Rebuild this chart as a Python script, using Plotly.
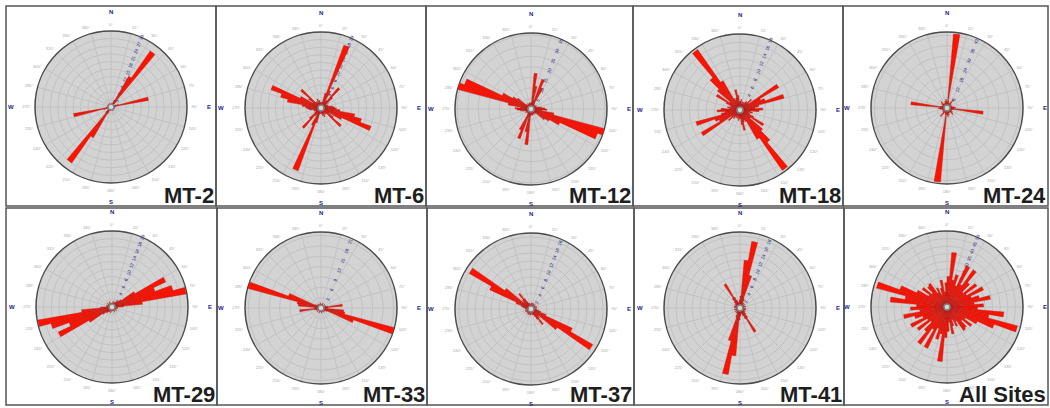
import plotly.graph_objects as go

# ---------------------------------------------------------------- data
# Axial orientation data: 5-degree bins over 0-180 deg, mirrored to 180-360.
BIN_CENTERS = [2.5, 7.5, 12.5, 17.5, 22.5, 27.5, 32.5, 37.5, 42.5, 47.5,
               52.5, 57.5, 62.5, 67.5, 72.5, 77.5, 82.5, 87.5, 92.5, 97.5,
               102.5, 107.5, 112.5, 117.5, 122.5, 127.5, 132.5, 137.5, 142.5, 147.5,
               152.5, 157.5, 162.5, 167.5, 172.5, 177.5]

SITES = ["MT-2", "MT-6", "MT-12", "MT-18", "MT-24",
         "MT-29", "MT-33", "MT-37", "MT-41", "All Sites"]

MT_2 = [1, 1, 1.5, 1, 1.5, 3, 14, 27, 3, 1, 1, 1.5, 1, 1, 3, 15, 2, 1,
        1.5, 1, 1, 1, 1.5, 1, 1, 1, 1, 1, 1.5, 1, 1, 1.5, 1, 1, 1, 1]
MT_6 = [1.5, 1, 1.5, 4, 17.6, 5, 2, 2.5, 7, 4, 2, 1.5, 1.5, 2, 1.5, 2, 3, 3.5,
        4, 5, 9, 11, 14, 6, 2.5, 4, 7, 2, 1.5, 2, 1.5, 2.5, 1.5, 2, 1.5, 1]
MT_12 = [3, 17, 11, 4, 15, 11, 3, 2, 2.5, 2, 2, 3, 2, 2.5, 3, 4, 5, 6.5,
         7.5, 5, 11, 36, 33.5, 15, 10, 8, 3, 2.5, 2, 3, 2, 2.5, 3, 2, 3, 2.5]
MT_18 = [2, 2.5, 1.5, 2, 1.5, 2, 1.5, 2.5, 2, 3.6, 2.5, 10.6, 5.4, 6.3, 10.8, 4.5, 3.6, 5.4,
         4.5, 2.5, 3, 2, 2.5, 3.6, 6.5, 3, 7, 10, 17.5, 8, 3, 2.5, 3, 4.9, 3.5, 2]
MT_24 = [3, 43, 4, 2, 3, 2, 4, 6, 3, 2, 3, 2, 2, 3, 2, 3, 4, 5,
         4, 21, 4, 3, 2, 3, 2, 4, 3, 5, 3, 2, 3, 2, 4, 3, 5, 4]
MT_29 = [1, 1, 1.5, 1, 1, 1.5, 1, 1.5, 2, 2, 3, 7, 15.6, 12, 16.6, 19.8, 8, 3,
         1.5, 1, 1, 1.5, 1, 1, 1, 1.5, 1, 1, 1, 1, 1.5, 1, 1, 1, 1, 1]
MT_33 = [1, 1, 1, 1, 1.5, 1, 1, 1, 1, 1.5, 1, 1, 1, 1.5, 1, 2, 6.2, 2,
         1.5, 6.6, 7, 22, 10, 2, 1.5, 1, 1, 1, 1.5, 1, 1, 1, 1, 1, 1.5, 1]
MT_37 = [1.5, 1, 1.5, 1, 1, 1.5, 1, 1, 1.5, 1, 1, 1, 1.5, 1, 1, 1.5, 1, 1,
         1.5, 1, 2, 2.5, 4, 11.4, 17.8, 8, 2.5, 3, 4.8, 3, 2, 1.5, 1, 1.5, 1, 1]
MT_41 = [3, 12, 16.9, 8.5, 2.5, 1.5, 1, 1.5, 1, 1, 1.5, 1, 1, 1, 1.5, 1, 1, 1,
         1.5, 1, 1, 1.5, 1, 1, 1.5, 1, 1.5, 2, 3, 7, 3, 2, 1.5, 1, 1.5, 2]
ALL_SITES = [20, 36, 18, 22, 15, 30, 17, 30, 21, 14, 24, 15, 26.5, 17, 22, 29, 18, 24,
             20, 37.5, 28, 48, 33, 22, 14, 20, 13, 18, 19, 11, 14, 9, 13, 18, 10, 16]

COUNTS = [MT_2, MT_6, MT_12, MT_18, MT_24, MT_29, MT_33, MT_37, MT_41, ALL_SITES]

# radial axis extent and label step for each rose
R_MAX = [30, 20, 36, 18, 44, 20, 22, 19, 19, 50]
R_STEP = [3, 2, 5, 2, 6, 2, 3, 2, 2, 5]

# ---------------------------------------------------------------- layout
W, H = 1050, 408
RADIUS = 76
CENTERS = [(111, 107), (321, 108), (531, 109), (740, 110), (947, 108),
           (112, 307), (321, 308), (531, 309), (740, 308), (947, 307)]
FRAMES = [(6, 216, 6, 206), (216, 426, 6, 206), (426, 633, 6, 206), (633, 843, 6, 206), (843, 1048, 6, 206),
          (6, 217, 208, 405), (217, 427, 208, 405), (427, 634, 208, 405), (634, 844, 208, 405), (844, 1048, 208, 405)]

NAVY = "#23238c"
GRID = "#c2c2c2"
TITLE_FONT = "Liberation Sans, Arial"


def fx(x):
    return x / W


def fy(y):
    return 1 - y / H


fig = go.Figure()
layout = {}
annotations = []
shapes = []

for i, (name, counts) in enumerate(zip(SITES, COUNTS)):
    sub = "polar" if i == 0 else f"polar{i + 1}"
    cx, cy = CENTERS[i]
    theta = BIN_CENTERS + [b + 180 for b in BIN_CENTERS]
    r = counts + counts
    fig.add_trace(go.Barpolar(
        r=r, theta=theta, width=5, subplot=sub,
        marker=dict(color="#ff1200", line=dict(color="#a02020", width=0.4)),
        showlegend=False, hoverinfo="skip"))
    fig.add_trace(go.Scatterpolar(
        r=[0], theta=[0], mode="markers", subplot=sub,
        marker=dict(size=6, color="#d6d6d6", line=dict(color="#808080", width=1.5)),
        showlegend=False, hoverinfo="skip"))

    rmax, step = R_MAX[i], R_STEP[i]
    layout[sub] = dict(
        domain=dict(x=[fx(cx - RADIUS), fx(cx + RADIUS)],
                    y=[fy(cy + RADIUS), fy(cy - RADIUS)]),
        bgcolor="#d3d3d3",
        angularaxis=dict(
            direction="clockwise", rotation=90, dtick=15, ticksuffix="°",
            tickfont=dict(size=4, color="#a6a6a6", family="Liberation Sans"),
            ticks="outside", ticklen=3, tickcolor="rgba(0,0,0,0)",
            showline=True, linecolor="#4a4a4a", linewidth=1.5,
            gridcolor=GRID, gridwidth=0.6, layer="below traces"),
        radialaxis=dict(
            range=[0, rmax], tickvals=list(range(step, rmax + 1, step)),
            angle=69, tickangle=0, showline=False, ticks="",
            tickfont=dict(size=4.5, color=NAVY, family="Liberation Sans"),
            gridcolor=GRID, gridwidth=0.6, layer="below traces"),
    )

    # compass letters
    for txt, (ax, ay) in {"N": (cx, cy - RADIUS - 19), "S": (cx, cy + RADIUS + 19),
                          "W": (cx - RADIUS - 24, cy), "E": (cx + RADIUS + 22, cy)}.items():
        annotations.append(dict(x=fx(ax), y=fy(ay), xref="paper", yref="paper",
                                text=f"<b>{txt}</b>", showarrow=False,
                                font=dict(size=6, color=NAVY, family="Liberation Sans"),
                                xanchor="center", yanchor="middle"))

    x0, x1, y0, y1 = FRAMES[i]
    shapes.append(dict(type="rect", xref="paper", yref="paper",
                       x0=fx(x0), x1=fx(x1), y0=fy(y1), y1=fy(y0),
                       line=dict(color="#555555", width=1.5)))
    annotations.append(dict(x=fx(x1 - 1), y=fy(y1 + 3), xref="paper", yref="paper",
                            text=f"<b>{name}</b>", showarrow=False, borderpad=0,
                            font=dict(size=22, color="#1e1e1e", family=TITLE_FONT),
                            xanchor="right", yanchor="bottom"))

fig.update_layout(
    width=W, height=H, margin=dict(l=0, r=0, t=0, b=0),
    paper_bgcolor="white", plot_bgcolor="white",
    annotations=annotations, shapes=shapes, **layout)

fig.write_html("out.html")
